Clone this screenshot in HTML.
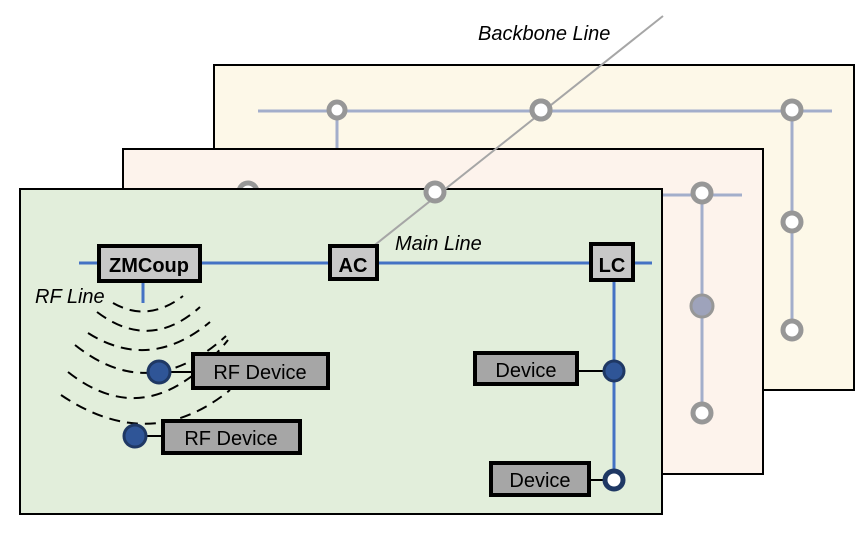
<!DOCTYPE html>
<html><head><style>
body{margin:0;background:#fff;}
svg text{font-family:"Liberation Sans",sans-serif;}
</style></head><body>
<svg width="866" height="531" viewBox="0 0 866 531" xmlns="http://www.w3.org/2000/svg">
<!-- back panel -->
<rect x="214" y="65" width="640" height="325" fill="#fdf8e8" stroke="#000" stroke-width="2"/>
<line x1="258" y1="111" x2="832" y2="111" stroke="#a3aecb" stroke-width="3"/>
<line x1="337" y1="111" x2="337" y2="150" stroke="#a3aecb" stroke-width="3"/>
<line x1="792" y1="111" x2="792" y2="330" stroke="#a3aecb" stroke-width="3"/>
<g fill="#fff" stroke="#979797" stroke-width="5">
<circle cx="337" cy="110" r="8"/><circle cx="541" cy="110" r="9"/><circle cx="792" cy="110" r="9"/>
<circle cx="792" cy="222" r="9"/><circle cx="792" cy="330" r="9"/></g>
<!-- mid panel -->
<rect x="123" y="149" width="640" height="325" fill="#fdf3ec" stroke="#000" stroke-width="2"/>
<line x1="200" y1="195" x2="742" y2="195" stroke="#a3aecb" stroke-width="3"/>
<line x1="702" y1="195" x2="702" y2="413" stroke="#a3aecb" stroke-width="3"/>
<g fill="#fff" stroke="#979797" stroke-width="5">
<circle cx="248" cy="192" r="9"/><circle cx="702" cy="193" r="9"/>
<circle cx="702" cy="413" r="9"/></g>
<circle cx="702" cy="306" r="11" fill="#9ea3bb" stroke="#979797" stroke-width="3"/>
<!-- front panel -->
<rect x="20" y="189" width="642" height="325" fill="#e2eedb" stroke="#000" stroke-width="2"/>
<line x1="79" y1="263" x2="652" y2="263" stroke="#4472c4" stroke-width="3"/>
<line x1="614" y1="263" x2="614" y2="480" stroke="#4472c4" stroke-width="3"/>
<line x1="143" y1="281" x2="143" y2="303" stroke="#4472c4" stroke-width="3"/>
<!-- backbone -->
<line x1="663" y1="16" x2="366" y2="252" stroke="#a6a6a6" stroke-width="2"/>
<circle cx="541" cy="110" r="9" fill="#fff" stroke="#979797" stroke-width="5"/>
<circle cx="435" cy="192" r="9" fill="#fff" stroke="#979797" stroke-width="5"/>
<!-- arcs -->
<g fill="none" stroke="#000" stroke-width="2" stroke-dasharray="11,7">
<path d="M113 303 Q148 323 183 296"/>
<path d="M97 312 Q150 352 200 307"/>
<path d="M88 333 Q150 372 210 322"/>
<path d="M75 345 Q150 405 226 336"/>
<path d="M68 372 Q150 437 228 340"/>
<path d="M61 395 Q150 455 230 390"/>
</g>
<!-- boxes -->
<g stroke="#000" stroke-width="4" fill="#c8c8c8">
<rect x="99" y="246" width="101" height="35"/>
<rect x="330" y="246" width="47" height="33"/>
<rect x="591" y="244" width="42" height="36"/>
</g>
<g stroke="#000" stroke-width="4" fill="#a6a6a6">
<rect x="193" y="354" width="135" height="34"/>
<rect x="163" y="421" width="137" height="32"/>
<rect x="475" y="353" width="102" height="31"/>
<rect x="491" y="463" width="98" height="32"/>
</g>
<g stroke="#000" stroke-width="2">
<line x1="159" y1="372" x2="193" y2="372"/><line x1="135" y1="436" x2="163" y2="436"/>
<line x1="577" y1="371" x2="614" y2="371"/><line x1="589" y1="480" x2="614" y2="480"/>
</g>
<g stroke="#1f3864" stroke-width="3">
<circle cx="159" cy="372" r="11" fill="#2f5597"/>
<circle cx="135" cy="436" r="11" fill="#2f5597"/>
<circle cx="614" cy="371" r="10" fill="#2f5597"/>
<circle cx="614" cy="480" r="9" fill="#fff" stroke-width="5"/>
</g>
<g font-size="20" fill="#000">
<text x="149" y="272" text-anchor="middle" font-weight="bold">ZMCoup</text>
<text x="353" y="272" text-anchor="middle" font-weight="bold">AC</text>
<text x="612" y="272" text-anchor="middle" font-weight="bold">LC</text>
<text x="260" y="379" text-anchor="middle">RF Device</text>
<text x="231" y="445" text-anchor="middle">RF Device</text>
<text x="526" y="377" text-anchor="middle">Device</text>
<text x="540" y="487" text-anchor="middle">Device</text>
<text x="478" y="40" font-style="italic">Backbone Line</text>
<text x="395" y="250" font-style="italic">Main Line</text>
<text x="35" y="303" font-style="italic">RF Line</text>
</g>
</svg>
</body></html>
